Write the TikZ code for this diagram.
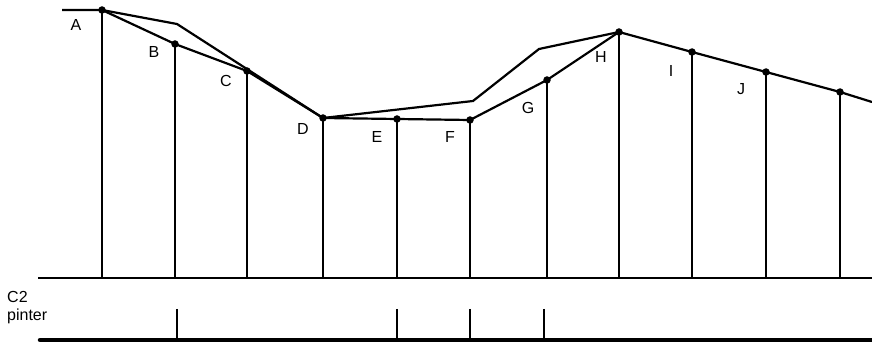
\documentclass[tikz,border=0pt]{standalone}
\usepackage{fontspec}
\setmainfont{Liberation Sans}
\usetikzlibrary{positioning}
\tikzstyle{pt} = [circle, fill=black, inner sep=0pt, minimum size=7.5pt]
\tikzstyle{lbl} = [font=\fontsize{16}{18}\selectfont, inner sep=0pt]
\tikzstyle{edge} = [line width=2.2pt]

\begin{document}
\begin{tikzpicture}[x=1pt, y=-1pt]
    \useasboundingbox (0,0) rectangle (872,344);

    \node[pt](ptA) at (102,10) {};
    \node[pt](ptB) at (175,44) {};
    \node[pt](ptC) at (247,71) {};
    \node[pt](ptD) at (323,118) {};
    \node[pt](ptE) at (397,119) {};
    \node[pt](ptF) at (470,120) {};
    \node[pt](ptG) at (547,80) {};
    \node[pt](ptH) at (619,32) {};
    \node[pt](ptI) at (692,52) {};
    \node[pt](ptJ) at (766,72) {};
    \node[pt](ptK) at (840,92) {};
    \coordinate (start) at (62,10);
    \coordinate (stop) at (872,102);
    \coordinate (up1) at (177,24);
    \coordinate (up2) at (473,101);
    \coordinate (up3) at (539,49);
    \coordinate (base) at (0,278);
    \coordinate (baseL) at (38,278);
    \coordinate (baseR) at (872,278);

    \node[lbl](labA) at (76,25) {A};
    \node[lbl](labB) at (154,52) {B};
    \node[lbl](labC) at (226,81) {C};
    \node[lbl](labD) at (303,129) {D};
    \node[lbl](labE) at (377,137) {E};
    \node[lbl](labF) at (450,137) {F};
    \node[lbl](labG) at (528,108) {G};
    \node[lbl](labH) at (601,57) {H};
    \node[lbl](labI) at (671,71) {I};
    \node[lbl](labJ) at (741,89) {J};

    % profile lines
    \draw[edge] (start) -- (ptA.center) -- (ptB.center) -- (ptC.center) -- (ptD.center) -- (ptE.center)
    -- (ptF.center) -- (ptG.center) -- (ptH.center) -- (ptI.center) -- (ptJ.center) -- (ptK.center) -- (stop);
    \draw[edge] (ptA.center) -- (up1) -- (ptD.center) -- (up2) -- (up3) -- (ptH.center);

    % verticals
    \draw[edge] (baseL) -- (baseR);
    \foreach \p in {ptA,ptB,ptC,ptD,ptE,ptF,ptG,ptH,ptI,ptJ,ptK}
        \draw[edge] (\p.center) -- (\p |- base);

    % pointer row
    \node[lbl, anchor=base west](labC2) at (7,302) {C2};
    \node[lbl, anchor=base west](labPinter) at (7,320) {pinter};
    \coordinate (barL) at (40,340);
    \coordinate (barR) at (872,340);
    \draw[line width=4.5pt, line cap=round] (barL) -- (barR);
    \foreach \x in {177,397,470,544}
        \draw[edge] (\x,309) -- (\x,340);
\end{tikzpicture}
\end{document}
